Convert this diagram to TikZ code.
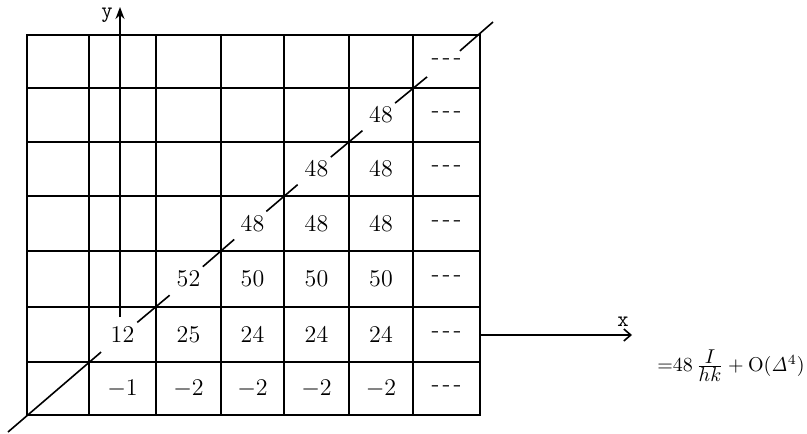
\documentclass[tikz,border=0pt]{standalone}
\usetikzlibrary{calc,arrows.meta}
\newcommand\tridash{-\kern1.6pt-\kern1.6pt-}
\begin{document}
\begin{tikzpicture}[x=0.5pt,y=-0.5pt,
  gridline/.style={line width=0.9pt,line cap=rect},
  cell/.style={font=\fontsize{12}{14}\selectfont, inner sep=0pt},
  diag/.style={line width=0.8pt},
  axis/.style={line width=0.8pt},
  axlabel/.style={font=\ttfamily\fontsize{11}{12}\selectfont, inner sep=0pt}]
\useasboundingbox (0,0) rectangle (807,433);
\foreach \i/\v in {0/27,1/89,2/156,3/221,4/284,5/349,6/413,7/480}
  \coordinate (X\i) at (\v,0);
\foreach \j/\v in {0/415,1/362,2/307,3/251,4/196,5/142,6/88,7/35}
  \coordinate (Y\j) at (0,\v);
\foreach \i in {0,...,7}
  \coordinate (c\i) at (X\i |- Y\i);
% grid
\foreach \i in {0,...,7} {
  \draw[gridline] (X\i |- Y0) -- (X\i |- Y7);
  \draw[gridline] (X0 |- Y\i) -- (X7 |- Y\i);
}
% cell entries
\foreach \c/\r/\t in {
  1/0/$-1$, 2/0/$-2$, 3/0/$-2$, 4/0/$-2$, 5/0/$-2$, 6/0/\tridash,
  1/1/12, 2/1/25, 3/1/24, 4/1/24, 5/1/24, 6/1/\tridash,
  2/2/52, 3/2/50, 4/2/50, 5/2/50, 6/2/\tridash,
  3/3/48, 4/3/48, 5/3/48, 6/3/\tridash,
  4/4/48, 5/4/48, 6/4/\tridash,
  5/5/48, 6/5/\tridash,
  6/6/\tridash} {
  \pgfmathtruncatemacro\cc{\c+1}
  \pgfmathtruncatemacro\rr{\r+1}
  \node[cell] (t\c\r) at ($(X\c |- Y\r)!0.5!(X\cc |- Y\rr)$) {\t};
}
% diagonal
\coordinate (dstart) at (8,432);
\coordinate (dend) at (493,22);
\draw[diag] (dstart) -- ($(c1)!0.18!(c2)$);
\foreach \k in {2,...,6} {
  \pgfmathtruncatemacro\kp{\k-1}
  \pgfmathtruncatemacro\kn{\k+1}
  \draw[diag] ($(c\k)!0.28!(c\kp)$) -- ($(c\k)!0.21!(c\kn)$);
}
\draw[diag] ($(c7)!0.3!(c6)$) -- (dend);
% axes
\coordinate (yb) at (120,317);
\coordinate (yt) at (120,7);
\draw[axis,-{Stealth[length=6pt,width=4.5pt]}] (yb) -- (yt);
\node[axlabel] (ylab) at (107,15) {y};
\coordinate (xa) at (480,335);
\coordinate (xb) at (632,335);
\draw[axis,-{Straight Barb[length=3.5pt,width=6pt]}] (xa) -- (xb);
\node[axlabel] (xlab) at (623,322) {x};
% formula
\node[inner sep=0pt,font=\fontsize{10}{12}\selectfont] (formula) at (731,366)
  {${=}48\,\frac{\textstyle I}{\textstyle hk}+\mathrm{O}(\mathit{\Delta}^4)$};
\end{tikzpicture}
\end{document}
